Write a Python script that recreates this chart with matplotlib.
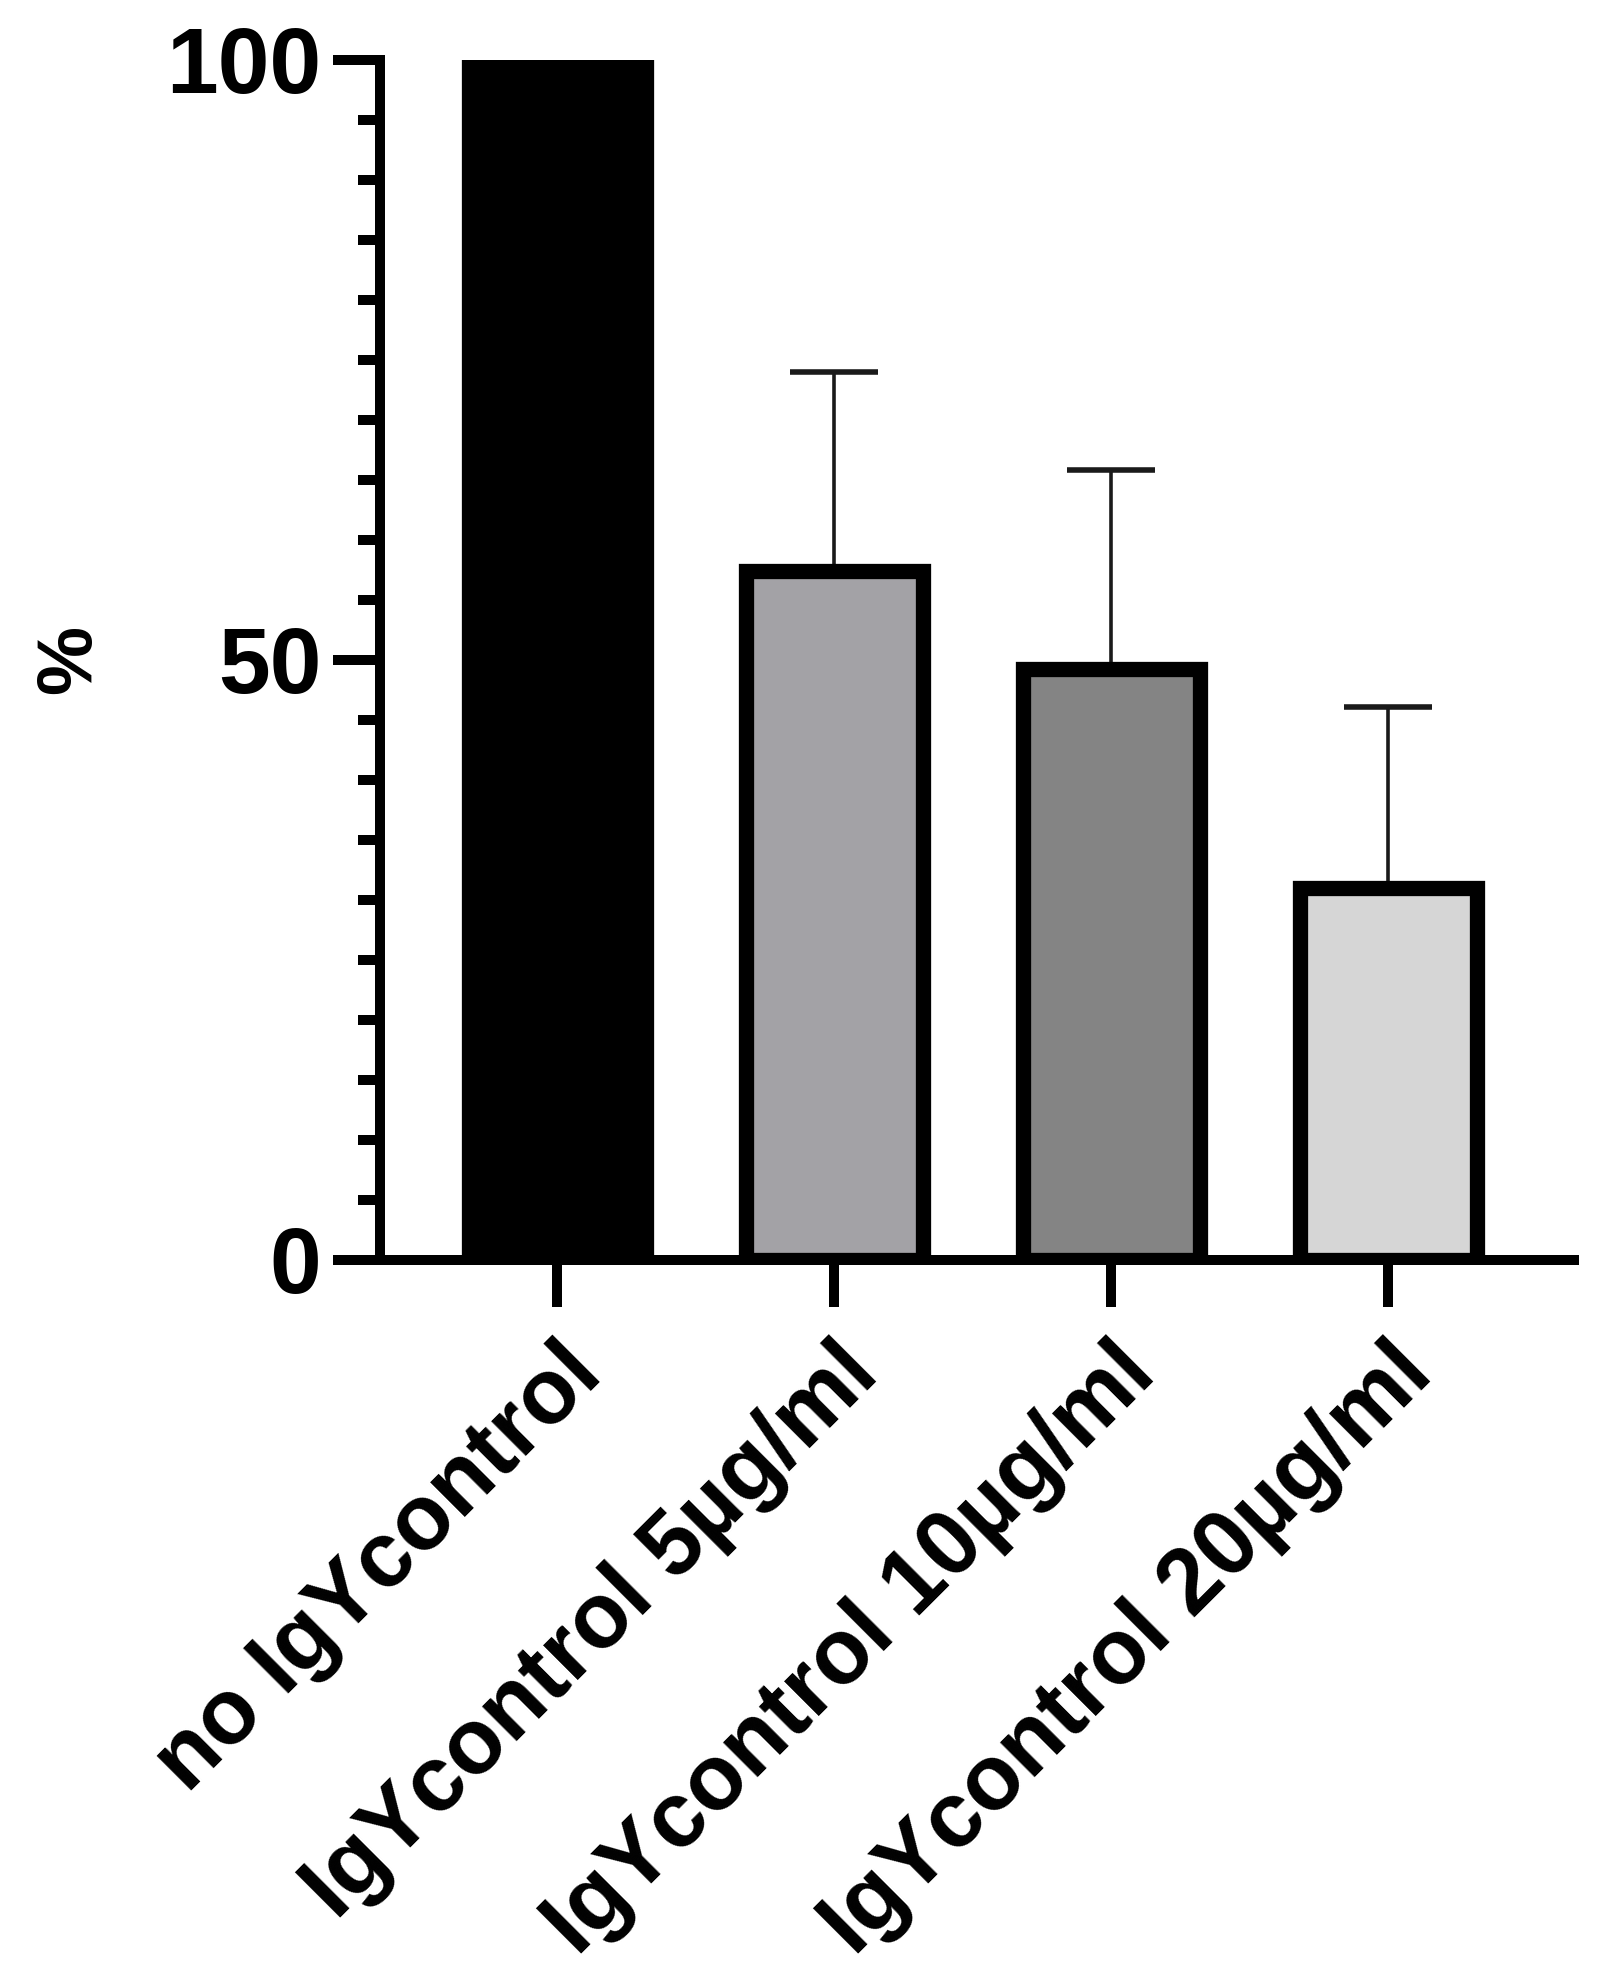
import matplotlib
matplotlib.use("Agg")
import matplotlib.pyplot as plt
from matplotlib.ticker import MultipleLocator

# Data
groups = ["no IgYcontrol", "IgYcontrol 5µg/ml", "IgYcontrol 10µg/ml", "IgYcontrol 20µg/ml"]
means = [100, 57.4, 49.2, 31.0]
sd_upper = [0, 16.6, 16.6, 15.1]
colors = ["#000000", "#A3A2A6", "#848484", "#D6D6D6"]

plt.rcParams['font.family'] = ['Liberation Sans', 'DejaVu Sans']
plt.rcParams['font.weight'] = 'bold'

fig = plt.figure(figsize=(16.03, 19.86), dpi=100)
ax = fig.add_axes([0.237, 0.3656, 0.745, 0.6044])

x = list(range(len(groups)))
# error bars first so the bars hide the lower part
ax.errorbar(x[1:], means[1:], yerr=[[0] * 3, sd_upper[1:]], fmt='none',
            ecolor='#1a1a1a', elinewidth=2.6, capsize=32, capthick=4, zorder=1)
ax.bar(x, means, width=0.64, color=colors, edgecolor='black', linewidth=11, zorder=2)

ax.set_xlim(-0.64, 3.67)
ax.set_ylim(0, 100)

for side in ['top', 'right']:
    ax.spines[side].set_visible(False)
for side in ['left', 'bottom']:
    ax.spines[side].set_linewidth(7.2)

ax.yaxis.set_major_locator(MultipleLocator(50))
ax.yaxis.set_minor_locator(MultipleLocator(5))
ax.tick_params(axis='y', which='major', length=34, width=7.2, labelsize=67, pad=8)
ax.tick_params(axis='y', which='minor', length=16, width=7.2)
ax.tick_params(axis='x', which='major', length=34, width=7.2, labelsize=66, pad=16)

ax.set_xticks(x)
ax.set_xticklabels(groups, rotation=45, ha='right', rotation_mode='anchor', fontweight='bold')
for lab in ax.get_yticklabels():
    lab.set_fontweight('bold')

ax.set_ylabel("%", fontsize=56, fontweight='bold', va='center')
ax.yaxis.set_label_coords(-0.26, 0.5)

fig.savefig("out.png", dpi=100)
